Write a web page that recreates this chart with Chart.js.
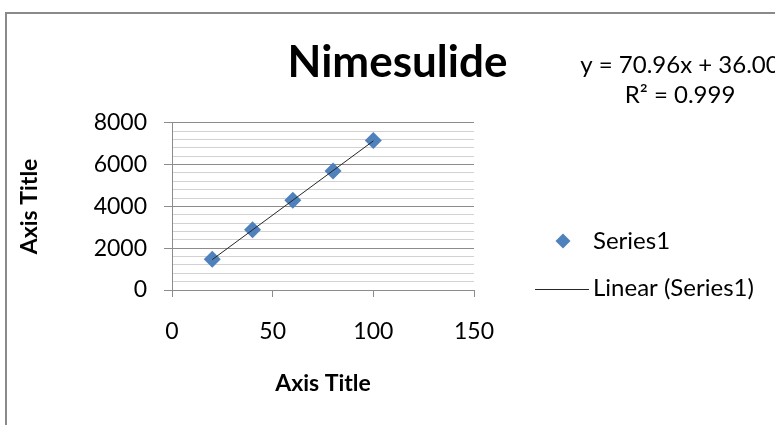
<!DOCTYPE html>
<html><head><meta charset="utf-8">
<script src="https://cdn.jsdelivr.net/npm/chart.js@4.4.1/dist/chart.umd.min.js"></script>
<style>html,body{margin:0;padding:0;background:#fff;overflow:hidden}canvas{display:block}</style>
</head><body>
<canvas id="c" width="775" height="425"></canvas>
<script>
// ---- data ----
const chartTitle = 'Nimesulide';
const xAxisTitle = 'Axis Title';
const yAxisTitle = 'Axis Title';
const concentrations = [20, 40, 60, 80, 100];
const areas = [1470, 2880, 4290, 5690, 7150];
const trendX = [20, 100];
const trendY = [1455, 7132];
const equationLines = ['y = 70.96x + 36.00', 'R\u00b2 = 0.999'];
const seriesName = 'Series1';
const trendName = 'Linear (Series1)';
const xTickValues = [0, 50, 100, 150];
const yTickLabels = [0, 2000, 4000, 6000, 8000];

const FONT = 'Lato';
const MAJOR = '#8c8c8c';
const MINOR = '#d2d2d2';
const BLUE = '#4F81BD';
const TREND = '#262626';

function diamond(ctx, x, y, r) {
  ctx.beginPath();
  ctx.moveTo(x - r, y); ctx.lineTo(x, y - r); ctx.lineTo(x + r, y); ctx.lineTo(x, y + r);
  ctx.closePath(); ctx.fill();
}

const decor = {
  id: 'decor',
  beforeDraw(chart) {
    const ctx = chart.ctx;
    ctx.save();
    ctx.fillStyle = '#8a8a8a';
    ctx.fillRect(5, 12, 2, 425);
    ctx.fillRect(5, 12, 775, 2);
    ctx.restore();
  },
  afterDraw(chart) {
    const ctx = chart.ctx;
    ctx.save();
    ctx.fillStyle = '#000';
    ctx.textBaseline = 'middle';
    ctx.font = '24px ' + FONT;
    ctx.textAlign = 'center';
    ctx.fillText(equationLines[0], 680, 65);
    ctx.fillText(equationLines[1], 680, 95);
    // legend
    ctx.fillStyle = BLUE;
    diamond(ctx, 563, 241, 7.5);
    ctx.strokeStyle = TREND; ctx.lineWidth = 1;
    ctx.beginPath(); ctx.moveTo(535, 289.5); ctx.lineTo(589, 289.5); ctx.stroke();
    ctx.fillStyle = '#000';
    ctx.textAlign = 'left';
    ctx.font = '24px ' + FONT;
    ctx.fillText(seriesName, 593, 241);
    ctx.fillText(trendName, 593, 288);
    ctx.restore();
  }
};

new Chart(document.getElementById('c'), {
  type: 'scatter',
  data: {
    datasets: [
      {
        label: trendName,
        data: trendX.map((x, i) => ({ x, y: trendY[i] })),
        showLine: true, borderColor: TREND, borderWidth: 1, pointRadius: 0, pointHoverRadius: 0, fill: false,
        order: 1
      },
      {
        label: seriesName,
        data: concentrations.map((x, i) => ({ x, y: areas[i] })),
        pointStyle: 'rectRot', pointRadius: 8.5, pointHoverRadius: 8.5,
        backgroundColor: BLUE, borderColor: BLUE, borderWidth: 0,
        order: 2
      }
    ]
  },
  options: {
    responsive: false, animation: false, events: [],
    layout: { padding: { left: 20, top: 0, right: 0, bottom: 0 } },
    plugins: {
      legend: { display: false },
      tooltip: { enabled: false },
      title: {
        display: true, text: chartTitle, color: '#000',
        font: { family: FONT, weight: 'bold', size: 44, lineHeight: 1.2 },
        padding: { top: 36, bottom: 34 }
      }
    },
    scales: {
      x: {
        type: 'linear', position: 'bottom', min: 0, max: 150,
        afterBuildTicks: s => { s.ticks = xTickValues.map(v => ({ value: v })); },
        ticks: { color: '#000', font: { family: FONT, size: 23 }, padding: 21, maxRotation: 0, autoSkip: false,
                 callback: v => String(v) },
        grid: { drawOnChartArea: false, drawTicks: true, tickLength: 7, tickColor: MAJOR, color: MAJOR },
        border: { color: MAJOR, width: 1 },
        title: { display: true, text: xAxisTitle, color: '#000',
                 font: { family: FONT, weight: 'bold', size: 23, lineHeight: '16px' }, padding: { top: 0, bottom: 33.5 } },
        afterFit: s => { s.height = 135; }
      },
      y: {
        type: 'linear', position: 'left', min: 0, max: 8000,
        ticks: { stepSize: 400, autoSkip: false, color: '#000', font: { family: FONT, size: 23 }, padding: 17,
                 callback: v => yTickLabels.includes(v) ? String(v) : '' },
        grid: {
          color: c => (c.tick && yTickLabels.includes(c.tick.value)) ? MAJOR : MINOR,
          tickColor: c => (c.tick && yTickLabels.includes(c.tick.value)) ? MAJOR : 'rgba(0,0,0,0)',
          tickLength: 8, lineWidth: 1
        },
        border: { color: MAJOR, width: 1 },
        title: { display: true, text: yAxisTitle, color: '#000',
                 font: { family: FONT, weight: 'bold', size: 23, lineHeight: '16px' }, padding: { top: 2, bottom: 0 } },
        afterFit: s => { s.width = 152; }
      },
      spacer: {
        type: 'linear', position: 'right', display: true,
        grid: { display: false, drawTicks: false }, ticks: { display: false }, border: { display: false },
        afterFit: s => { s.width = 301; }
      }
    }
  },
  plugins: [decor]
});
</script>
</body></html>
